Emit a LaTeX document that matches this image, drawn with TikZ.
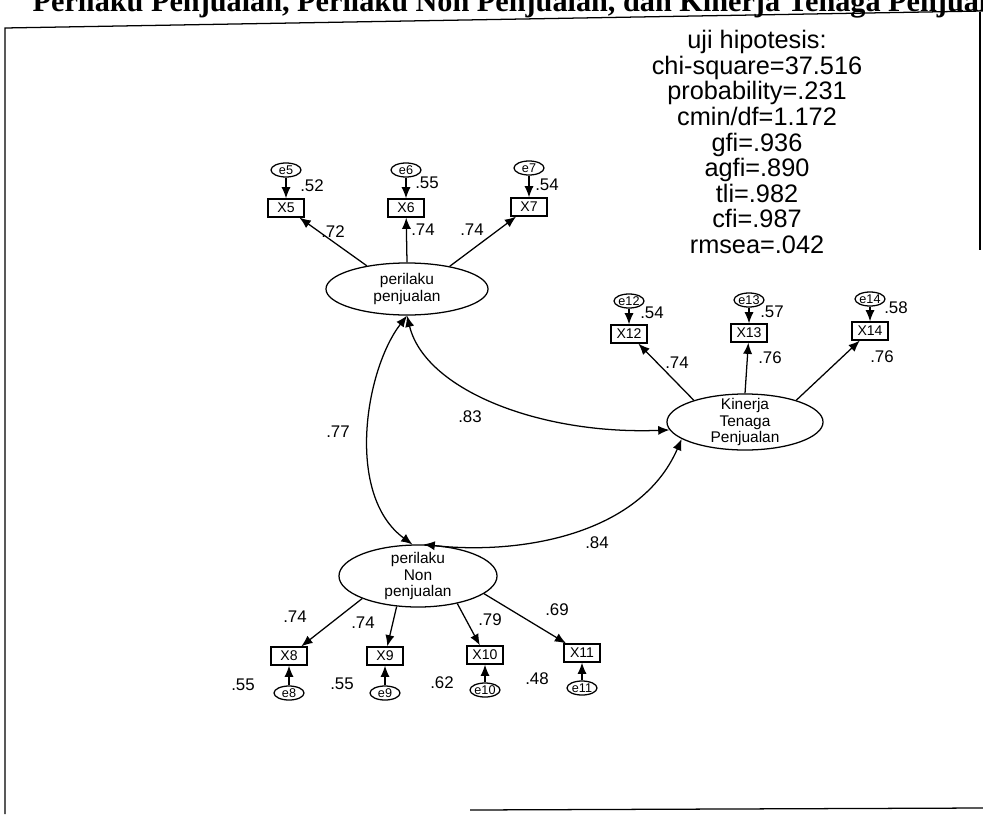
\documentclass[tikz,border=0pt]{standalone}
\usepackage{fontspec}
\setmainfont{Liberation Sans}
\newfontfamily\judulfont{Liberation Serif}
\usetikzlibrary{arrows.meta,positioning,shapes.geometric}

\begin{document}
\begin{tikzpicture}[x=0.025cm,y=-0.025cm,line width=0.9pt,
  latent/.style={draw,ellipse,inner sep=0pt},
  ltext/.style={align=center,font=\fontsize{11}{12}\selectfont},
  obs/.style={draw,rectangle,minimum width=0.9cm,minimum height=0.45cm,inner sep=0pt,font=\fontsize{10}{10}\selectfont},
  err/.style={draw,ellipse,minimum width=0.75cm,minimum height=0.35cm,inner sep=0pt,font=\fontsize{9}{9}\selectfont},
  coef/.style={inner sep=1pt,font=\fontsize{12}{12}\selectfont},
  load/.style={-{Latex[length=8pt,width=6.5pt]}},
  cov/.style={{Latex[length=8pt,width=6.5pt]}-{Latex[length=8pt,width=6.5pt]}}]
  \useasboundingbox (0,0) rectangle (983,814);
  \clip (0,0) rectangle (983,814);
  % judul (terpotong)
  \node[anchor=base west,inner sep=0pt,font=\judulfont\bfseries\fontsize{21.5}{22}\selectfont] (judul) at (32,12)
    {Perilaku Penjualan, Perilaku Non Penjualan, dan Kinerja Tenaga Penjualan};
  % bingkai
  \draw (5,814) -- (5,28) -- (983,11);
  \draw (980,12) -- (980,250);
  \draw (470,810) -- (983,808);
  % uji hipotesis
  \node[align=center,inner sep=0pt,font=\fontsize{18}{18.2}\selectfont] (uji) at (757,142)
    {uji hipotesis:\\chi-square=37.516\\probability=.231\\cmin/df=1.172\\gfi=.936\\agfi=.890\\tli=.982\\cfi=.987\\rmsea=.042};
  % variabel laten
  \node[latent,minimum width=4.05cm,minimum height=1.3cm,label={[ltext]center:perilaku\\penjualan}] (pp) at (407,289) {};
  \node[latent,minimum width=3.9cm,minimum height=1.4cm,label={[ltext]center:Kinerja\\Tenaga\\Penjualan}] (kt) at (745,422) {};
  \node[latent,minimum width=3.95cm,minimum height=1.55cm,label={[ltext]center:perilaku\\Non\\penjualan}] (pn) at (418,576) {};
  % indikator perilaku penjualan
  \foreach \n/\x/\ey/\by/\ang/\rv/\rx/\ry/\wv/\wx/\wy in {
    5/286/170/208/150/.52/312/186/.72/333/232,
    6/406/170/208/90/.55/427/183/.74/423/230,
    7/529/168/207/28/.54/547/185/.74/472/230}{
    \node[obs] (X\n) at (\x,\by) {X\n};
    \node[err] (e\n) at (\x,\ey) {e\n};
    \draw[load] (e\n) -- (X\n);
    \draw[load] (pp.\ang) -- (X\n);
    \node[coef] (r\n) at (\rx,\ry) {\rv};
    \node[coef] (w\n) at (\wx,\wy) {\wv};
  }
  % indikator kinerja tenaga penjualan
  \foreach \n/\x/\ey/\by/\ang/\rv/\rx/\ry/\wv/\wx/\wy in {
    12/629/301/334/157/.54/652/313/.74/677/363,
    13/749/300/333/90/.57/772/312/.76/770/358,
    14/870/299/331/23/.58/896/308/.76/882/357}{
    \node[obs] (X\n) at (\x,\by) {X\n};
    \node[err] (e\n) at (\x,\ey) {e\n};
    \draw[load] (e\n) -- (X\n);
    \draw[load] (kt.\ang) -- (X\n);
    \node[coef] (r\n) at (\rx,\ry) {\rv};
    \node[coef] (w\n) at (\wx,\wy) {\wv};
  }
  % indikator perilaku non penjualan
  \foreach \n/\x/\ey/\by/\ang/\rv/\rx/\ry/\wv/\wx/\wy in {
    8/289/693/656/202/.55/243/685/.74/295/617,
    9/385/693/656/235/.55/342/684/.74/363/623,
    10/485/690/655/325/.62/442/683/.79/490/620,
    11/582/688/653/345/.48/537/679/.69/557/610}{
    \node[obs] (X\n) at (\x,\by) {X\n};
    \node[err] (e\n) at (\x,\ey) {e\n};
    \draw[load] (e\n) -- (X\n);
    \draw[load] (pn.\ang) -- (X\n);
    \node[coef] (r\n) at (\rx,\ry) {\rv};
    \node[coef] (w\n) at (\wx,\wy) {\wv};
  }
  % korelasi
  \draw[cov] (pp.south) .. controls (365,370) and (345,495) .. (pn.100);
  \draw[cov] (pp.south) .. controls (425,390) and (540,435) .. (kt.186);
  \draw[cov] (pn.80) .. controls (520,555) and (640,535) .. (kt.195);
  \node[coef] (c77) at (338,432) {.77};
  \node[coef] (c83) at (470,417) {.83};
  \node[coef] (c84) at (597,543) {.84};
\end{tikzpicture}
\end{document}
